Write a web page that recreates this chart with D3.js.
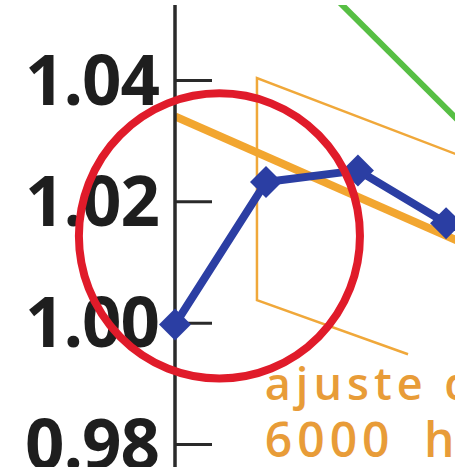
<!DOCTYPE html>
<html><head><meta charset="utf-8">
<script src="https://cdn.jsdelivr.net/npm/d3@7"></script>
<style>html,body{margin:0;padding:0;background:#fff;}svg{display:block;}</style>
</head><body>
<svg id="chart" width="455" height="467"></svg>
<script>
// ---- data ----
const yTicks = [1.04, 1.02, 1.00, 0.98];
const yTickLabels = ["1.04", "1.02", "1.00", "0.98"];
const blueX = [0, 1.004, 2.018, 2.99];
const blueY = [0.9997, 1.0232, 1.0251, 1.0164];
const fitX = [0, 3.3];
const fitY = [1.0340, 1.0123];
const bandX = [2.57, 0.904, 0.904, 3.2];
const bandY = [0.9948, 1.0037, 1.0403, 1.0272];
const greenX = [1.7, 3.2];
const greenY = [1.0545, 1.0322];
const noteLines = ["ajuste de", "6000 horas"];
const noteX = [0.99, 0.99];
const noteY = [0.9872, 0.9779];
const ringCenter = [0.49, 1.0143];
const ringRadius = [1.55, 0.0235];

// ---- layout ----
const svg = d3.select("#chart");
const W = 455, H = 467;
const x = d3.scaleLinear().domain([0, 3]).range([175, 447]);
const y = d3.scaleLinear().domain([0.98, 1.04]).range([444, 80]);

svg.append("defs").append("clipPath").attr("id", "plot")
  .append("rect").attr("x", x(0)).attr("y", 5).attr("width", W - x(0)).attr("height", H - 5);

const plot = svg.append("g").attr("clip-path", "url(#plot)");
const line = d3.line().x(d => x(d[0])).y(d => y(d[1]));

// green line
plot.append("path").datum(d3.zip(greenX, greenY)).attr("d", line)
  .attr("fill", "none").attr("stroke", "#57bf44").attr("stroke-width", 6);

// thin orange band outline
plot.append("path").datum(d3.zip(bandX, bandY)).attr("d", line)
  .attr("fill", "none").attr("stroke", "#f0a83a").attr("stroke-width", 2.5)
  .attr("stroke-linejoin", "miter");

// thick orange fit
plot.append("path").datum(d3.zip(fitX, fitY)).attr("d", line)
  .attr("fill", "none").attr("stroke", "#f2a630").attr("stroke-width", 8);

// axis
const axis = d3.axisLeft(y).tickValues(yTicks).tickSize(0).tickFormat((d, i) => yTickLabels[i]);
const ag = svg.append("g").attr("transform", `translate(${x(0)},0)`).call(axis);
ag.select(".domain").remove();
ag.selectAll(".tick text").remove();
ag.append("line").attr("x1", 0).attr("x2", 0).attr("y1", 5).attr("y2", H)
  .attr("stroke", "#2a2a2a").attr("stroke-width", 3.5);
ag.selectAll(".tick").append("line").attr("x1", 0).attr("x2", 37)
  .attr("stroke", "#2a2a2a").attr("stroke-width", 3);
ag.selectAll(".tick").append("text")
  .attr("x", -16).attr("y", 24)
  .attr("text-anchor", "end")
  .attr("fill", "#1e1e1e")
  .style("font-family", "'Open Sans', sans-serif")
  .style("font-weight", 700)
  .style("font-size", "69px")
  .style("letter-spacing", "-1px")
  .text((d, i) => yTickLabels[i]);

// blue series
const bluePts = d3.zip(blueX, blueY);
plot.append("path").datum(bluePts).attr("d", line)
  .attr("fill", "none").attr("stroke", "#2b3ea3").attr("stroke-width", 8)
  .attr("stroke-linejoin", "round");
svg.append("g").selectAll("path.dia").data(bluePts).join("path")
  .attr("class", "dia")
  .attr("transform", d => `translate(${x(d[0])},${y(d[1])})`)
  .attr("d", "M0,-16L16,0L0,16L-16,0Z")
  .attr("fill", "#2b3ea3");

// note text
svg.append("g").selectAll("text").data(noteLines).join("text")
  .attr("x", (d, i) => x(noteX[i]))
  .attr("y", (d, i) => y(noteY[i]))
  .attr("fill", "#e89c38")
  .style("font-family", "'Open Sans', sans-serif")
  .style("font-weight", 600)
  .style("font-size", (d, i) => i === 0 ? "45px" : "48px")
  .style("letter-spacing", "5px")
  .style("word-spacing", (d, i) => i === 0 ? "0px" : "12px")
  .text(d => d);

// red ring annotation
svg.append("ellipse")
  .attr("cx", x(ringCenter[0])).attr("cy", y(ringCenter[1]))
  .attr("rx", x(ringRadius[0]) - x(0)).attr("ry", y(0.98) - y(0.98 + ringRadius[1]))
  .attr("fill", "none").attr("stroke", "#e01b2a").attr("stroke-width", 8);
</script>
</body></html>
